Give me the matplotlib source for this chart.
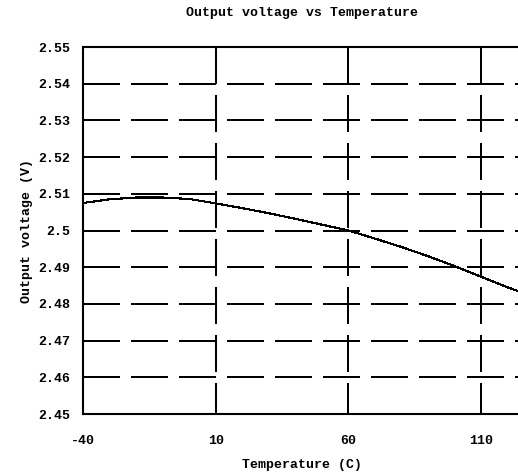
import numpy as np
import matplotlib
matplotlib.use('Agg')
import matplotlib.pyplot as plt

# Datos
temperatura = [-40, -30, -20, -10, 0, 10, 20, 30, 40, 50, 60, 70, 80, 90, 100, 110, 120, 125]
voltaje = [2.5075, 2.5085, 2.5090, 2.5090, 2.5086, 2.5074, 2.5061, 2.5047, 2.5032, 2.5016,
           2.5000, 2.4978, 2.4955, 2.4930, 2.4903, 2.4874, 2.4845, 2.4832]

xticks = [-40, 10, 60, 110]
yticks = [2.45, 2.46, 2.47, 2.48, 2.49, 2.50, 2.51, 2.52, 2.53, 2.54, 2.55]
yetiquetas = ['2.45', '2.46', '2.47', '2.48', '2.49', '2.5', '2.51', '2.52', '2.53', '2.54', '2.55']

plt.rcParams['font.family'] = ['Liberation Mono', 'DejaVu Sans Mono']
plt.rcParams['lines.scale_dashes'] = False

fig = plt.figure(figsize=(5.18, 4.75), dpi=100)
ax = fig.add_axes([0.1602, 0.1284, 0.8456, 0.7726])

ax.plot(temperatura, voltaje, color='black', linewidth=0.8, antialiased=False, zorder=3)

ax.set_xlim(-40, 125)
ax.set_ylim(2.45, 2.55)

# rejilla discontinua
guion = (0, (26.6, 8.6))
for yv in yticks[1:-1]:
    ax.axhline(yv, color='black', linewidth=1.4, linestyle=guion, antialiased=False, zorder=2)
for xv in xticks[1:]:
    ax.axvline(xv, ymin=1, ymax=0, color='black', linewidth=1.4, linestyle=guion, antialiased=False, zorder=2)

ax.set_xticks(xticks)
ax.set_xticklabels([str(v) for v in xticks])
ax.set_yticks(yticks)
ax.set_yticklabels(yetiquetas)
ax.tick_params(axis='x', length=0, pad=15, labelsize=9.5)
ax.tick_params(axis='y', length=0, pad=9, labelsize=9.5)
for lab in ax.get_xticklabels() + ax.get_yticklabels():
    lab.set_fontweight('bold')

for lado in ['left', 'top', 'bottom']:
    ax.spines[lado].set_linewidth(1.5)
    ax.spines[lado].set_color('black')
ax.spines['right'].set_visible(False)

ax.set_xlabel('Temperature (C)', fontsize=9.5, fontweight='bold', labelpad=9)
ax.set_ylabel('Output voltage (V)', fontsize=9.5, fontweight='bold', labelpad=4)
ax.set_title('Output voltage vs Temperature', fontsize=9.5, fontweight='bold', pad=22)

fig.savefig('out.png', dpi=100)
